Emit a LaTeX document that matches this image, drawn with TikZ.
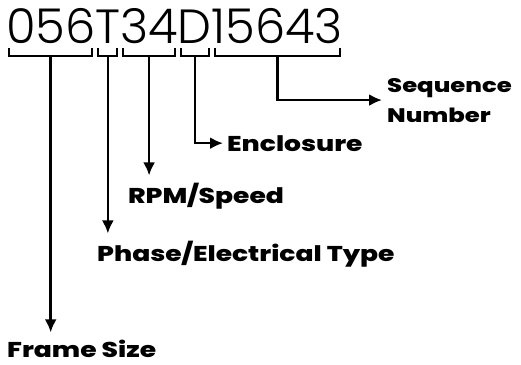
\documentclass[tikz,border=0pt]{standalone}
\usepackage{fontspec}
\setmainfont{Poppins}
\newfontfamily\serialfont{Poppins Light}
\newfontfamily\labelfont{Poppins ExtraBold}[FakeStretch=1.24]
\usetikzlibrary{positioning,arrows.meta}

\begin{document}
\begin{tikzpicture}[x=1pt,y=-1pt,
		part/.style={inner sep=0pt, outer sep=0pt, font=\serialfont\fontsize{48}{48}\selectfont},
		lbl/.style={inner sep=0pt, anchor=base west, font=\labelfont\fontsize{21.4}{30}\selectfont, align=left},
		brace/.style={line width=2pt},
		arr/.style={line width=2.4pt, -{Latex[length=13pt,width=12pt]}},
	]
	\useasboundingbox (0,0) rectangle (521,364);
	% serial number, one node per field
	\node[part, anchor=base west] (frame) at (6,43) {056};
	\node[part, right=0pt of frame.base east, anchor=base west] (phase) {T};
	\node[part, right=0pt of phase.base east, anchor=base west] (rpm) {34};
	\node[part, right=0pt of rpm.base east, anchor=base west] (encl) {D};
	\node[part, right=0pt of encl.base east, anchor=base west] (seq) {15643};
	% brackets under the fields
	\foreach \f in {frame,phase,rpm,encl,seq}{
			\draw[brace] ([xshift=3pt,yshift=-5pt]\f.base west) -- ++(0,8) -| ([xshift=-3pt,yshift=-5pt]\f.base east);
			\coordinate (\f-stem) at ([yshift=-13pt]\f.base);
		}
	% labels
	\node[lbl, font=\labelfont\fontsize{19.6}{30}\selectfont] (seq-lbl) at (387,122) {Sequence\\Number};
	\node[lbl] (encl-lbl) at (227,151) {Enclosure};
	\node[lbl] (rpm-lbl) at (128,203) {RPM/Speed};
	\node[lbl] (phase-lbl) at (97,261) {Phase/Electrical Type};
	\node[lbl] (frame-lbl) at (7,357) {Frame Size};
	% arrows
	\draw[arr, shorten >=5pt] (seq-stem) |- (seq-lbl.west);
	\draw[arr, shorten >=4pt] (encl-stem) |- (encl-lbl.west);
	\draw[arr, shorten >=7pt] (rpm-stem) -- (rpm-stem |- rpm-lbl.north);
	\draw[arr, shorten >=7pt] (phase-stem) -- (phase-stem |- phase-lbl.north);
	\draw[arr, shorten >=7pt] (frame-stem) -- (frame-stem |- frame-lbl.north);
\end{tikzpicture}
\end{document}
